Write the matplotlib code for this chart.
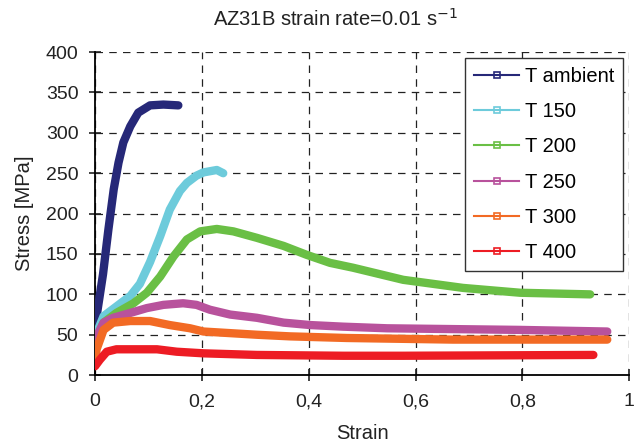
import numpy as np
import matplotlib
matplotlib.use("Agg")
import matplotlib.pyplot as plt
from matplotlib.ticker import FuncFormatter

plt.rcParams['font.family'] = ['Liberation Sans', 'DejaVu Sans']

# curves (strain, stress MPa)
amb_strain = [0.0, 0.003, 0.015, 0.025, 0.035, 0.044, 0.053, 0.066, 0.081, 0.103, 0.128, 0.156]
amb_stress = [45, 73, 125, 180, 230, 263, 288, 308, 325, 334, 335, 334]

t150_strain = [0.0, 0.003, 0.016, 0.04, 0.066, 0.084, 0.103, 0.122, 0.14, 0.159, 0.172, 0.19,
               0.203, 0.228, 0.24]
t150_stress = [27, 52, 73, 85, 98, 113, 140, 172, 205, 228, 238, 247, 251, 254, 250]

t200_strain = [0.0, 0.003, 0.016, 0.04, 0.072, 0.097, 0.122, 0.147, 0.172, 0.197, 0.228, 0.259,
               0.303, 0.353, 0.396, 0.44, 0.483, 0.577, 0.689, 0.796, 0.927]
t200_stress = [23, 44, 65, 77, 89, 102, 122, 147, 168, 178, 181, 178,
               170, 160, 149, 139, 133, 118, 108, 102, 100]

t250_strain = [0.0, 0.003, 0.016, 0.034, 0.066, 0.097, 0.128, 0.165, 0.19, 0.215, 0.253, 0.303,
               0.353, 0.403, 0.465, 0.547, 0.796, 0.959]
t250_stress = [25, 48, 65, 71, 77, 83, 87, 89, 87, 81, 75, 71, 65, 62, 60, 58, 56, 54]

t300_strain = [0.0, 0.003, 0.016, 0.034, 0.066, 0.103, 0.14, 0.178, 0.203, 0.253, 0.303, 0.365,
               0.471, 0.67, 0.959]
t300_stress = [16, 32, 56, 65, 67, 67, 62, 58, 54, 52, 50, 48, 46, 44, 44]

t400_strain = [0.0, 0.009, 0.022, 0.04, 0.116, 0.153, 0.203, 0.303, 0.465, 0.577, 0.933]
t400_stress = [11, 19, 29, 32, 32, 29, 27, 25, 24, 24, 25]

labels = ['T ambient', 'T 150', 'T 200', 'T 250', 'T 300', 'T 400']
colors = ['#262878', '#6dcbdb', '#6abf45', '#b8529c', '#f26a24', '#ed1c24']
curves = [(amb_strain, amb_stress), (t150_strain, t150_stress), (t200_strain, t200_stress),
          (t250_strain, t250_stress), (t300_strain, t300_stress), (t400_strain, t400_stress)]

fig = plt.figure(figsize=(6.42, 4.45), dpi=100)
ax = fig.add_axes([0.148, 0.157, 0.832, 0.726])

for (x, y), c, lab in zip(curves, colors, labels):
    ax.plot(x, y, color=c, lw=6, solid_capstyle='round', solid_joinstyle='round', zorder=3)
    # legend proxy: thin line with open square marker
    ax.plot([], [], color=c, lw=1.5, marker='s', ms=4, mfc='none', mew=1.2, label=lab)

ax.set_xlim(0, 1)
ax.set_ylim(0, 400)
ax.set_xticks(np.arange(0, 1.01, 0.2))
ax.set_yticks(np.arange(0, 401, 50))
ax.xaxis.set_major_formatter(FuncFormatter(lambda v, p: '0' if v == 0 else ('1' if v == 1 else f'{v:.1f}'.replace('.', ','))))
ax.grid(True, color='#222222', linestyle=(0, (6, 5)), lw=0.9)
ax.spines['top'].set_visible(False)
ax.spines['right'].set_visible(False)
ax.spines['left'].set_linewidth(1.3)
ax.spines['bottom'].set_linewidth(1.3)
ax.tick_params(direction='inout', length=8, width=1.2, labelsize=14, colors='#222222')
ax.tick_params(axis='x', pad=9)
ax.tick_params(axis='y', pad=8)

ax.set_xlabel('Strain', fontsize=14.5, color='#222222', labelpad=10)
ax.set_ylabel('Stress [MPa]', fontsize=14.5, color='#222222', labelpad=8)
fig.text(0.523, 0.957, 'AZ31B strain rate=0.01 s$^{-1}$', ha='center', va='center',
         fontsize=14.5, color='#222222')

leg = ax.legend(loc='upper right', bbox_to_anchor=(0.989, 0.981), fontsize=14.5, frameon=True,
                fancybox=False, edgecolor='#333333', framealpha=1, handlelength=2.2,
                labelspacing=0.8, borderpad=0.45, handletextpad=0.3, borderaxespad=0)
leg.get_frame().set_linewidth(1.0)
leg.set_zorder(5)

fig.savefig('out.png', dpi=100)
